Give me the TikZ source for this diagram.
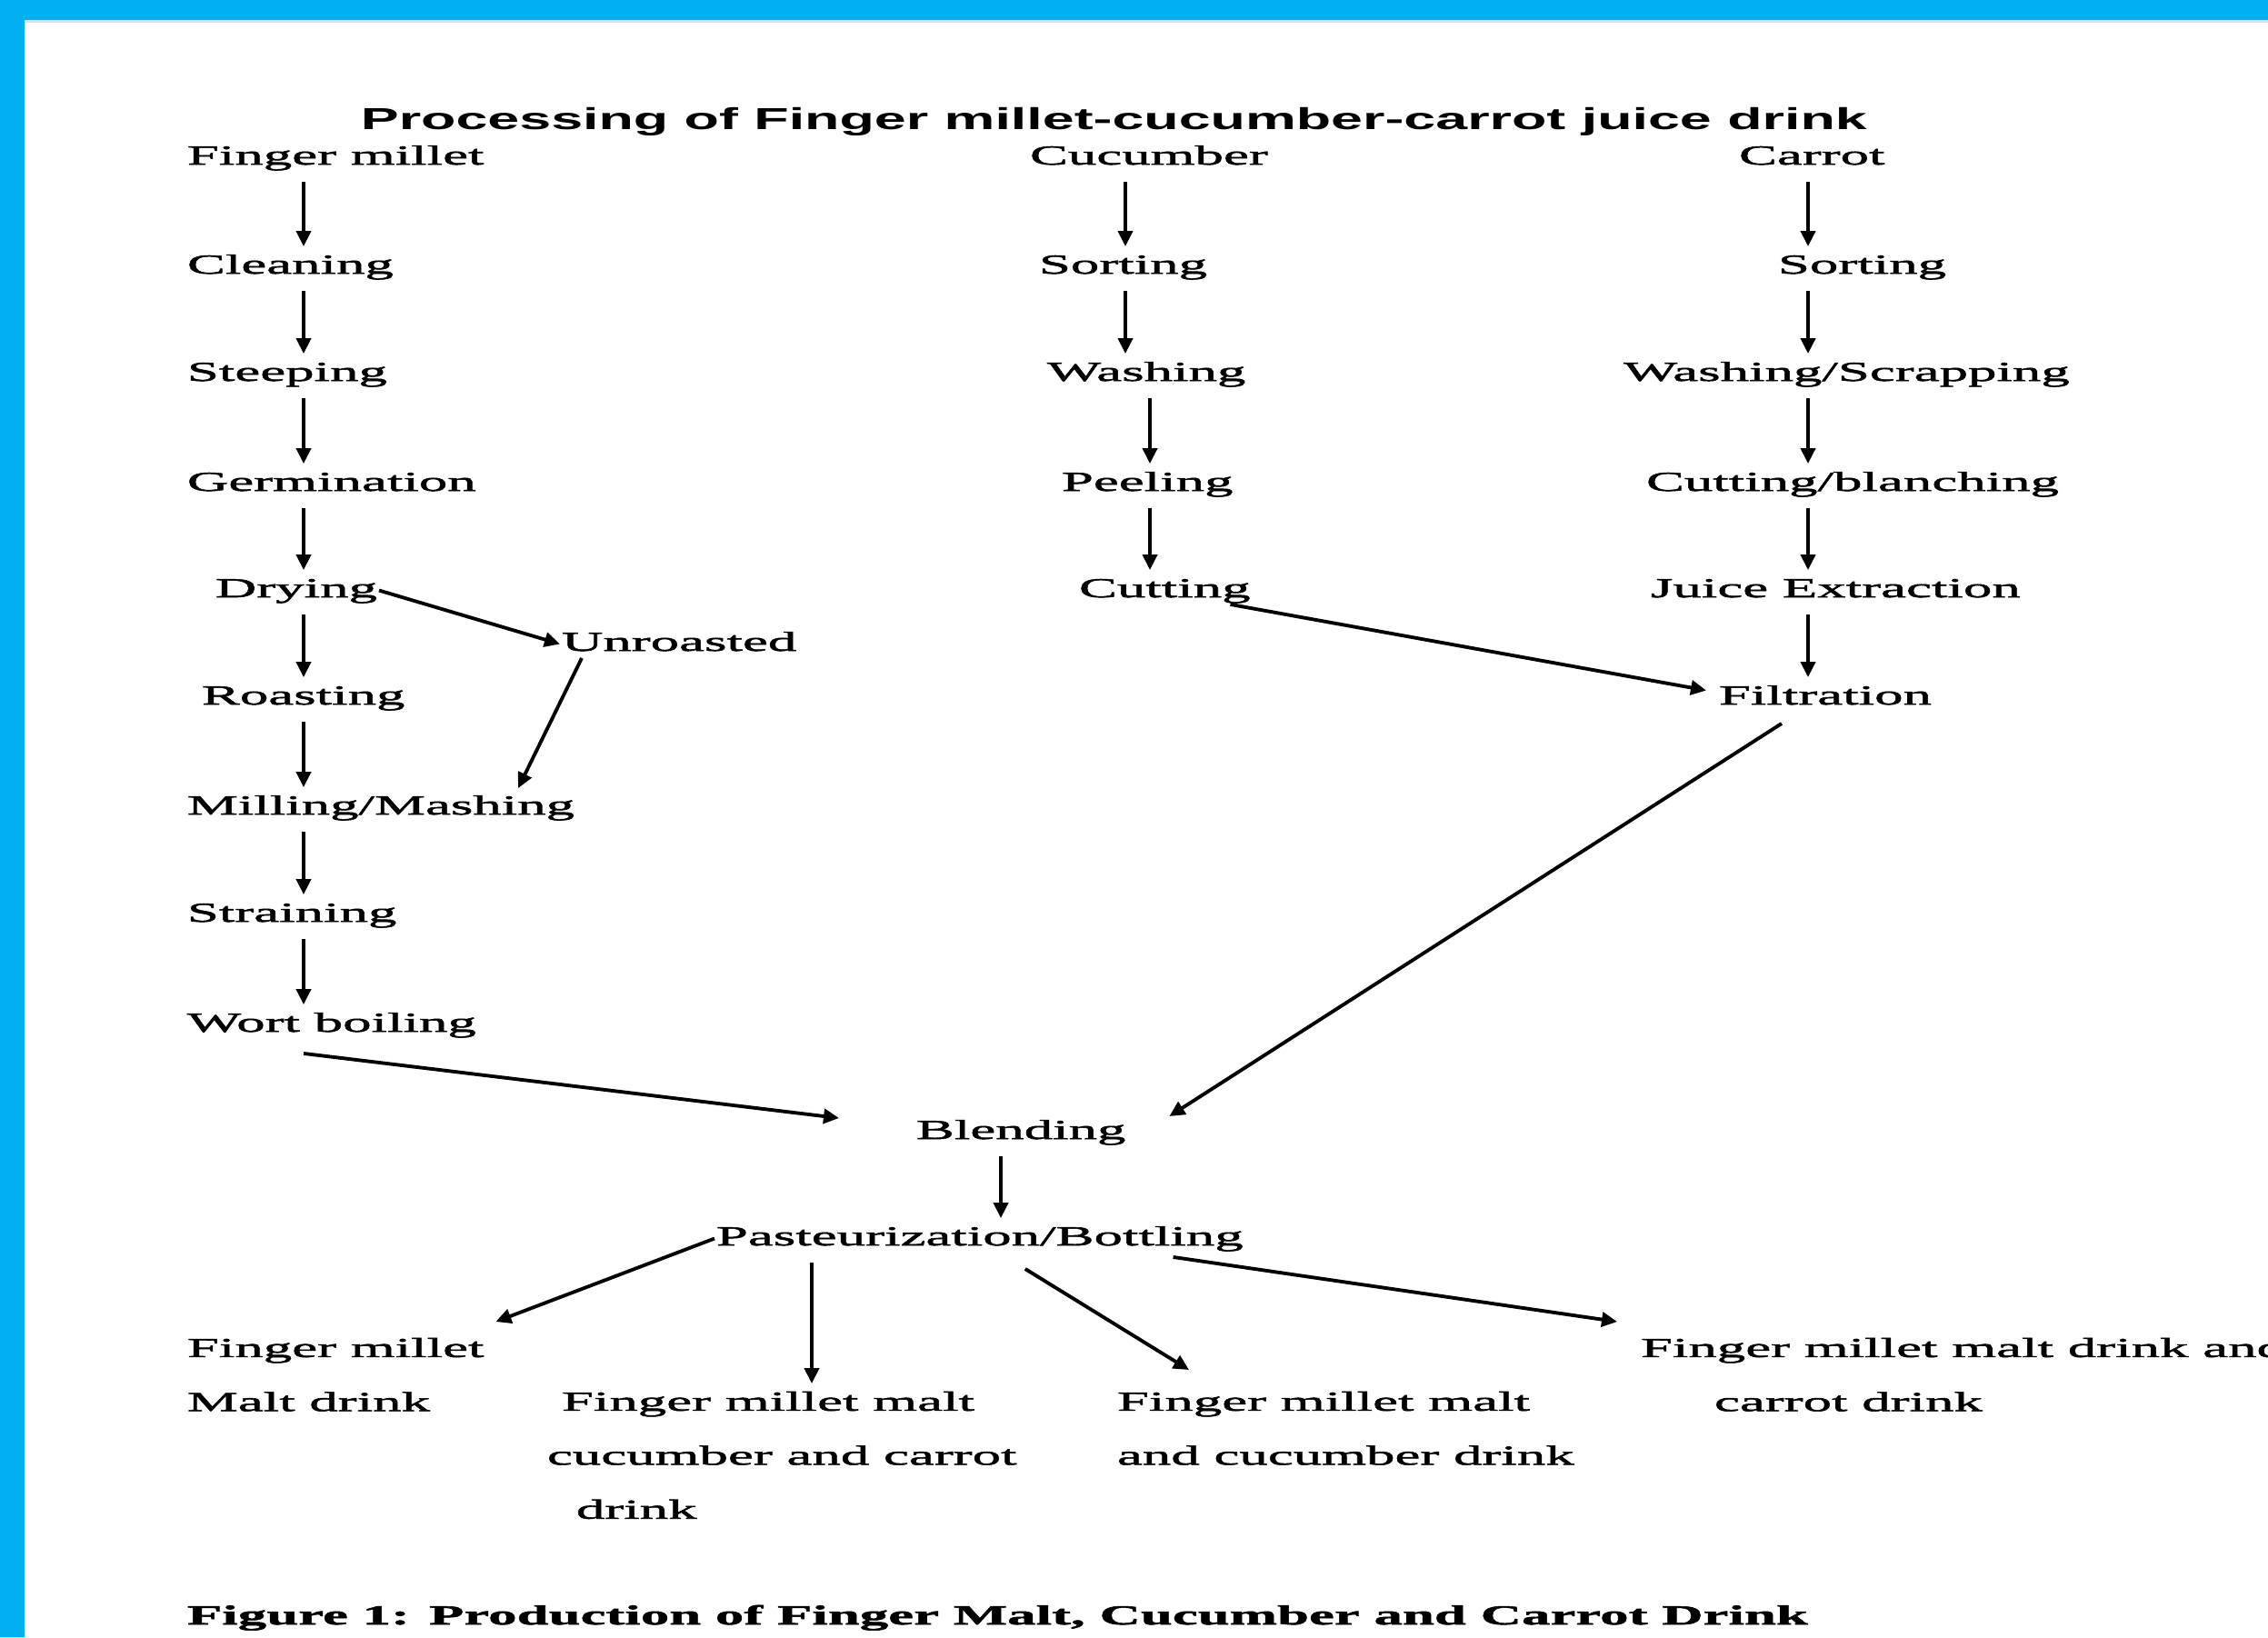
\documentclass[tikz,border=0pt]{standalone}
\usepackage{fontspec}
\setmainfont{Liberation Serif}[FakeStretch=2.08,FakeBold=1.8]
\newfontfamily\titlefont{Liberation Sans}[FakeStretch=1.88]
\usetikzlibrary{arrows.meta,calc}
\definecolor{frameblue}{RGB}{0,176,240}
\newcommand{\stepfont}{\fontsize{8.6}{16.9}\selectfont}

\begin{document}
\begin{tikzpicture}[font=\stepfont, line width=1.1pt, >={Triangle[length=1.7mm,width=1.6mm]},
  stepbox/.style={anchor=base west,inner sep=0pt,text height=2.1mm,text depth=0.6mm},
  outbox/.style={anchor=north west,inner sep=0pt,align=left},
  flow/.style={->,shorten <=1.1mm,shorten >=0.7mm},
  link/.style={->}]
% frame
\useasboundingbox (0,0) rectangle (24.95,-18.01);
\fill[white] (0,0) rectangle (24.95,-18.01);
\fill[gray!25] (0.27,-0.22) rectangle (24.95,-0.25);
\fill[frameblue] (0,0) rectangle (24.95,-0.22);
\fill[frameblue] (0,0) rectangle (0.27,-18.01);
% column lines
\coordinate (cfm) at (3.34,0); \coordinate (ccu) at (12.38,0); \coordinate (ccu2) at (12.65,0);
\coordinate (cca) at (19.89,0); \coordinate (cbl) at (11.01,0); \coordinate (cpa) at (8.93,0);
\node[anchor=base west,inner sep=0pt,font={\fontsize{9.5}{11}\titlefont\bfseries}] (title) at (3.95,-1.42)
  {Processing of Finger millet-cucumber-carrot juice drink};
% Finger millet branch
\node[stepbox] (fm) at (2.04,-1.81) {Finger millet};
\node[stepbox] (clean) at (2.04,-3.01) {Cleaning};
\node[stepbox] (steep) at (2.04,-4.19) {Steeping};
\node[stepbox] (germ) at (2.04,-5.40) {Germination};
\node[stepbox] (dry) at (2.35,-6.57) {Drying};
\node[stepbox] (unr) at (6.16,-7.16) {Unroasted};
\node[stepbox] (roast) at (2.20,-7.75) {Roasting};
\node[stepbox] (mill) at (2.04,-8.96) {Milling/Mashing};
\node[stepbox] (strain) at (2.04,-10.14) {Straining};
\node[stepbox] (wort) at (2.04,-11.35) {Wort boiling};
\draw[flow] (fm.south -| cfm) -- (clean.north -| cfm); \draw[flow] (clean.south -| cfm) -- (steep.north -| cfm);
\draw[flow] (steep.south -| cfm) -- (germ.north -| cfm); \draw[flow] (germ.south -| cfm) -- (dry.north -| cfm);
\draw[flow] (dry.south -| cfm) -- (roast.north -| cfm); \draw[flow] (roast.south -| cfm) -- (mill.north -| cfm);
\draw[flow] (mill.south -| cfm) -- (strain.north -| cfm); \draw[flow] (strain.south -| cfm) -- (wort.north -| cfm);
\draw[link] (dry.east) -- (unr.west);
\draw[link] ($(unr.south west)+(0.24,0)$) -- ($(mill.north east)+(-0.64,0.06)$);
% Cucumber branch
\node[stepbox] (cu) at (11.31,-1.81) {Cucumber};
\node[stepbox] (cusort) at (11.41,-3.01) {Sorting};
\node[stepbox] (cuwash) at (11.50,-4.19) {Washing};
\node[stepbox] (peel) at (11.66,-5.40) {Peeling};
\node[stepbox] (cucut) at (11.85,-6.57) {Cutting};
\draw[flow] (cu.south -| ccu) -- (cusort.north -| ccu); \draw[flow] (cusort.south -| ccu) -- (cuwash.north -| ccu);
\draw[flow] (cuwash.south -| ccu2) -- (peel.north -| ccu2); \draw[flow] (peel.south -| ccu2) -- (cucut.north -| ccu2);
% Carrot branch
\node[stepbox] (ca) at (19.11,-1.81) {Carrot};
\node[stepbox] (casort) at (19.54,-3.01) {Sorting};
\node[stepbox] (cawash) at (17.84,-4.19) {Washing/Scrapping};
\node[stepbox] (cacut) at (18.09,-5.40) {Cutting/blanching};
\node[stepbox] (juice) at (18.14,-6.57) {Juice Extraction};
\node[stepbox] (filt) at (18.89,-7.75) {Filtration};
\draw[flow] (ca.south -| cca) -- (casort.north -| cca); \draw[flow] (casort.south -| cca) -- (cawash.north -| cca);
\draw[flow] (cawash.south -| cca) -- (cacut.north -| cca); \draw[flow] (cacut.south -| cca) -- (juice.north -| cca);
\draw[flow] (juice.south -| cca) -- (filt.north -| cca);
\draw[link] ($(cucut.south east)+(-0.24,0)$) -- ($(filt.west)+(-0.12,0.08)$);
% Blending and products
\node[stepbox] (blend) at (10.06,-12.53) {Blending};
\node[stepbox] (past) at (7.86,-13.70) {Pasteurization/Bottling};
\node[outbox] (out1) at (2.04,-14.70) {Finger millet\\Malt drink};
\node[outbox] (out2) at (6.00,-15.29) {\hspace*{1.6mm}Finger millet malt\\cucumber and carrot\\\hspace*{3.2mm}drink};
\node[outbox] (out3) at (12.27,-15.29) {Finger millet malt\\and cucumber drink};
\node[outbox] (out4) at (18.03,-14.70) {Finger millet malt drink and\\\hspace*{8.1mm}carrot drink};
\draw[link] ($(wort.south -| cfm)+(0,-0.16)$) -- ($(blend.west)+(-0.83,0.155)$);
\draw[link] ($(filt.south)+(-0.48,-0.13)$) -- ($(blend.east)+(0.46,0.175)$);
\draw[flow] (blend.south -| cbl) -- (past.north -| cbl);
\draw[link] (past.west) -- ($(out1.north east)+(0.11,0.16)$);
\draw[flow] (past.south -| cpa) -- (out2.north -| cpa);
\draw[link] ($(past.south)+(0.50,-0.18)$) -- ($(out3.north west)+(0.81,0.22)$);
\draw[link] ($(past.south east)+(-0.79,-0.05)$) -- ($(out4.north west)+(-0.24,0.16)$);
\node[stepbox,font={\stepfont\bfseries}] (cap) at (2.04,-17.87) {Figure 1: Production of Finger Malt, Cucumber and Carrot Drink};
\end{tikzpicture}
\end{document}
